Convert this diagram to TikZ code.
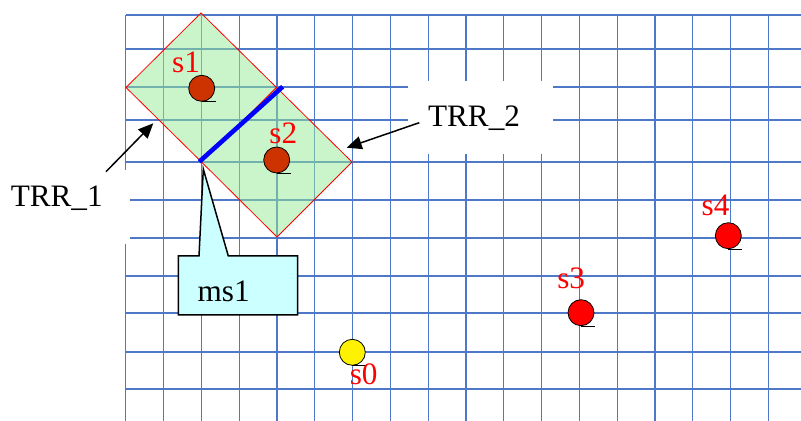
\documentclass[tikz,border=0pt]{standalone}
\usepackage{fontspec}
\setmainfont{Liberation Serif}
\usetikzlibrary{arrows.meta}
\definecolor{gridblue}{RGB}{80,120,200}
\definecolor{trrgreen}{RGB}{150,235,150}
\definecolor{sdark}{RGB}{204,51,0}
\definecolor{msfill}{RGB}{204,255,255}

\begin{document}
\begin{tikzpicture}[
  x=0.5pt, y=-0.5pt,
  gridline/.style={draw=gridblue, line width=0.6pt},
  mask/.style={fill=white},
  trr/.style={draw=red, line width=0.4pt, fill=trrgreen, fill opacity=0.5},
  station/.style={circle, draw=black, line width=0.4pt, minimum size=13pt, inner sep=0pt},
  tick/.style={line width=0.4pt},
  lbl/.style={anchor=base, inner sep=0pt, font=\fontsize{15.6}{18}\selectfont},
  slbl/.style={lbl, text=red},
  arrow/.style={-{Triangle[length=7.5pt,width=6.5pt]}, line width=0.75pt},
  callout/.style={draw=black, line width=0.75pt, fill=msfill}
]
\useasboundingbox (0,0) rectangle (801,421);

\foreach \i in {0,...,17}
  \draw[gridline] ({125.7+37.8*\i},15) -- ({125.7+37.8*\i},421);
\foreach \y in {15,49,87,120,162,200,238,276,313,352,389}
  \draw[gridline] (125.7,\y) -- (801,\y);

\fill[mask] (0,170) rectangle (130,244);
\fill[mask] (408,81) rectangle (553,154);

\coordinate (top) at (201,13);
\coordinate (left) at (126,87.5);
\coordinate (mida) at (201.5,162);
\coordinate (midb) at (276.5,87.5);
\coordinate (bot) at (277,237);
\coordinate (right) at (352,162);

\filldraw[trr] (top) -- (left) -- (mida) -- (midb) -- cycle;
\filldraw[trr] (midb) -- (mida) -- (bot) -- (right) -- cycle;
\draw[blue, line width=2.3pt] (199.3,161.7) -- (282.7,86.7);

\node[station, fill=sdark] (s1) at (201.7,88.3) {};
\node[station, fill=sdark] (s2) at (276.7,160) {};
\node[station, fill=red] (s3) at (581,312.7) {};
\node[station, fill=red] (s4) at (728.3,235.7) {};
\node[station, fill=yellow] (s0) at (352.3,352.3) {};
\foreach \s in {s0,s1,s2,s3,s4}
  \draw[tick] (\s.south) -- ++(14,0);

\node[slbl] (s1lbl) at (186,72.7) {s1};
\node[slbl] (s2lbl) at (283.3,144) {s2};
\node[slbl] (s3lbl) at (571.2,288.3) {s3};
\node[slbl] (s4lbl) at (715.5,216) {s4};
\node[slbl] (s0lbl) at (363.7,385) {s0};

\node[lbl] (trr1) at (56.7,206.7) {TRR\_1};
\node[lbl] (trr2) at (474,126.7) {TRR\_2};

\coordinate (a1) at (106,171.7);
\coordinate (t1) at (153.3,123.3);
\coordinate (a2) at (419.3,122.7);
\coordinate (t2) at (346.7,147.7);
\draw[arrow] (a1) -- (t1);
\draw[arrow] (a2) -- (t2);

\draw[callout] (178.3,256) -- (199,256) -- (203.3,169) -- (228.3,256) -- (297.7,256)
  -- (297.7,315) -- (178.3,315) -- cycle;
\node[lbl] (ms1) at (223.7,301.7) {ms1};
\end{tikzpicture}
\end{document}
